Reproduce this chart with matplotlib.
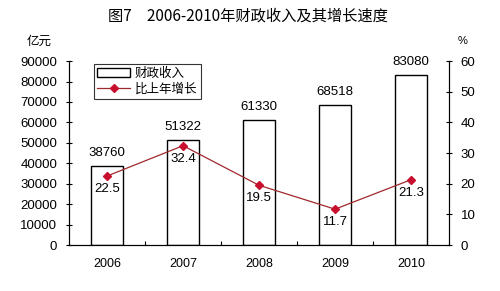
import matplotlib
matplotlib.use("Agg")
import matplotlib.pyplot as plt
import numpy as np

plt.rcParams['font.family'] = ['Liberation Sans', 'Noto Sans CJK SC', 'DejaVu Sans']

years = ["2006", "2007", "2008", "2009", "2010"]
revenue = [38760, 51322, 61330, 68518, 83080]
growth = [22.5, 32.4, 19.5, 11.7, 21.3]

LINE_RED = "#A0282D"
MARK_RED = "#C8102E"

fig = plt.figure(figsize=(5.0, 2.91), dpi=100)
ax = fig.add_axes([0.138, 0.158, 0.760, 0.632])
ax2 = ax.twinx()

x = np.arange(len(years))
bars = ax.bar(x, revenue, width=0.42, color="white", edgecolor="black", linewidth=1.0,
              label="财政收入", zorder=2)
line, = ax2.plot(x, growth, color=LINE_RED, linewidth=0.9, marker="D", markersize=4,
                 markerfacecolor=MARK_RED, markeredgecolor=MARK_RED, label="比上年增长", zorder=3)

ax.set_xlim(-0.5, len(years) - 0.5)
ax.set_ylim(0, 90000)
ax.set_yticks(np.arange(0, 90001, 10000))
ax2.set_ylim(0, 60)
ax2.set_yticks(np.arange(0, 61, 10))

ax.set_xticks(x)
ax.set_xticklabels(years, fontsize=9)
ax.set_xticks(np.arange(0.5, len(years) - 1, 1), minor=True)
ax.tick_params(axis="x", which="major", length=0, pad=9)
ax.tick_params(axis="x", which="minor", direction="in", length=3, width=0.8)
ax.tick_params(axis="y", direction="inout", length=5, width=0.8, labelsize=9.5, pad=6)
ax2.tick_params(axis="y", direction="inout", length=5, width=0.8, labelsize=9.5, pad=6)

for a in (ax, ax2):
    a.spines["top"].set_visible(False)
    for s in ("left", "right", "bottom"):
        a.spines[s].set_linewidth(0.8)

ax.set_zorder(ax2.get_zorder() - 1)
ax2.patch.set_visible(False)

for xi, v in zip(x, revenue):
    ax.annotate(str(v), (xi, v), xytext=(0, 5), textcoords="offset points",
                ha="center", va="bottom", fontsize=9.5)
for xi, v in zip(x, growth):
    ax2.annotate(f"{v}", (xi, v), xytext=(0, -5), textcoords="offset points",
                 ha="center", va="top", fontsize=9.5)

leg = ax.legend([bars, line], ["财政收入", "比上年增长"], loc="upper left",
                bbox_to_anchor=(0.065, 0.985), frameon=True, fancybox=False,
                edgecolor="black", fontsize=9, handlelength=2.6, borderpad=0.3,
                labelspacing=0.25, handletextpad=0.4, borderaxespad=0.0)
leg.get_frame().set_linewidth(0.8)

fig.text(0.495, 0.945, "图7　2006-2010年财政收入及其增长速度", ha="center", va="center",
         fontsize=11, family=["Noto Sans CJK SC", "DejaVu Sans"])
fig.text(0.078, 0.858, "亿元", ha="center", va="center", fontsize=9,
         family=["Noto Sans CJK SC", "DejaVu Sans"])
fig.text(0.925, 0.858, "%", ha="center", va="center", fontsize=8)

fig.savefig("out.png", dpi=100, facecolor="white")
